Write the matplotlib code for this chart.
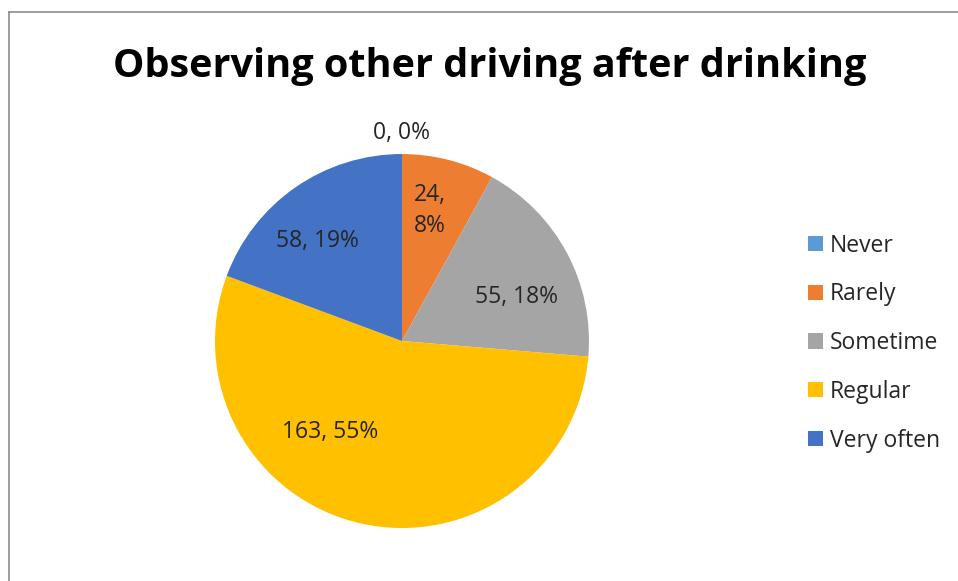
import matplotlib
matplotlib.use('Agg')
import matplotlib.pyplot as plt
from matplotlib.patches import Patch
from matplotlib.lines import Line2D

plt.rcParams['font.family'] = ['Open Sans', 'DejaVu Sans']

categories = ['Never', 'Rarely', 'Sometime', 'Regular', 'Very often']
counts = [0, 24, 55, 163, 58]
percents = [0, 8, 18, 55, 19]
colors = ['#5B9BD5', '#ED7D31', '#A5A5A5', '#FFC000', '#4472C4']

# label spots in radius units (Excel best-fit placement)
label_xy = [(-0.005, 1.11), (0.15, 0.70), (0.615, 0.235), (-0.385, -0.487), (-0.45, 0.535)]

fig = plt.figure(figsize=(9.58, 5.81), dpi=100)
ax = fig.add_axes([0.2244, 0.0912, 0.3904, 0.6437])

wedges, _ = ax.pie(counts, colors=colors, startangle=90, counterclock=False,
                   radius=1.0, wedgeprops=dict(linewidth=0))
ax.set_xlim(-1, 1)
ax.set_ylim(-1, 1)
ax.set_aspect('equal')

for i, (n, p) in enumerate(zip(counts, percents)):
    txt = f'{n}, {p}%'
    if categories[i] == 'Rarely':
        txt = f'{n},\n{p}%'
    x, y = label_xy[i]
    ax.text(x, y, txt, ha='center', va='center', fontsize=16.5, color='#262626',
            linespacing=1.4)

fig.text(0.511, 0.886, 'Observing other driving after drinking', ha='center', va='center',
         fontsize=28.5, fontweight='bold', color='black')

handles = [Patch(facecolor=c, edgecolor='none') for c in colors]
fig.legend(handles, categories, loc='center left', bbox_to_anchor=(0.8434, 0.4095),
           frameon=False, fontsize=16.5, handlelength=0.65, handleheight=0.65,
           handletextpad=0.3, labelspacing=1.08, borderpad=0, borderaxespad=0,
           labelcolor='#262626')

# chart frame (top and left edges visible)
fig.add_artist(Line2D([0.0099, 1.0], [0.979, 0.979], color='#8c8c8c', linewidth=1.2))
fig.add_artist(Line2D([0.0099, 0.0099], [0.0, 0.979], color='#8c8c8c', linewidth=1.2))

fig.savefig('out.png', dpi=100)
